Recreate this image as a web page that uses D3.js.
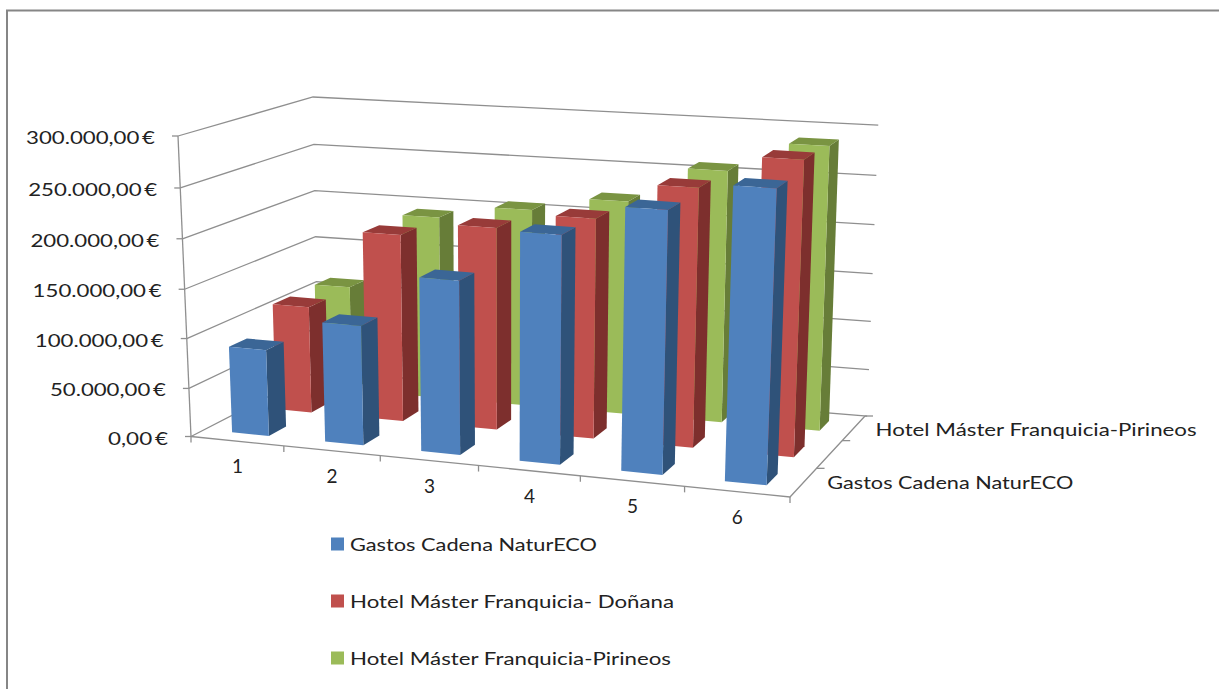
<!DOCTYPE html>
<html lang="es">
<head>
<meta charset="utf-8">
<title>Gastos por hotel</title>
<script src="https://cdn.jsdelivr.net/npm/d3@7"></script>
<style>
  html, body { margin: 0; padding: 0; background: #fff; }
  svg { display: block; }
  text { font-family: Lato, "Open Sans", sans-serif; fill: #222; }
</style>
</head>
<body>
<svg id="chart" width="1219" height="689"></svg>
<script>
// Chart data
const categories = ["1", "2", "3", "4", "5", "6"];
const seriesNames = ["Gastos Cadena NaturECO", "Hotel Máster Franquicia- Doñana", "Hotel Máster Franquicia-Pirineos"];
const gastos   = [88000, 121000, 174000, 226000, 257000, 284000];
const donana   = [111000, 193000, 207000, 223000, 260000, 293000];
const pirineos = [112000, 193000, 207000, 222000, 259000, 289000];
const valueTicks = [0, 50000, 100000, 150000, 200000, 250000, 300000];
const seriesValues = [gastos, donana, pirineos];

// Face colours per series: front, side, top
const faceColors = [
  { front: "#4f81bd", side: "#2f5279", top: "#3b6696" },
  { front: "#c0504d", side: "#7d2f2d", top: "#983b39" },
  { front: "#9bbb59", side: "#677d38", top: "#7a9442" }
];

// Box corners on screen: [x, y] for (left/right, front/back, floor/ceiling)
const box = {
  lf0: [191, 436.5], rf0: [790, 497], lb0: [318, 371], rb0: [865, 416],
  lf1: [178, 136],   rf1: [802, 179], lb1: [313, 97],  rb1: [876, 125]
};

// Normalised positions along each box edge; the steps widen toward the viewer
const xBoundary = d3.scaleLinear().domain(d3.range(7)).range([0, .155, .316, .48, .65, .824, 1]);
const zBoundary = d3.scaleLinear().domain([0, 1, 2, 3]).range([0, .354, .696, 1]);
const yScale = d3.scaleLinear().domain(valueTicks).range([0, .16, .326, .49, .658, .827, 1]);

// Trilinear placement inside the box
function project(u, v, w) {
  const mix = (a, b, t) => a + (b - a) * t;
  const at = k => {
    const f0 = mix(box.lf0[k], box.rf0[k], u), b0 = mix(box.lb0[k], box.rb0[k], u);
    const f1 = mix(box.lf1[k], box.rf1[k], u), b1 = mix(box.lb1[k], box.rb1[k], u);
    return mix(mix(f0, b0, w), mix(f1, b1, w), v);
  };
  return [at(0), at(1)];
}

const svg = d3.select("#chart");
const poly = pts => "M" + pts.map(p => p.join(",")).join("L") + "Z";
const gridColor = "#8f8f8f";

// Outer chart frame, open on the right and at the bottom
svg.append("path")
  .attr("d", "M7,689V10.5H1219")
  .attr("fill", "none").attr("stroke", "#868686").attr("stroke-width", 2);

// Walls: gridlines on the left and back planes, running just past the back corner
const walls = svg.append("g").attr("fill", "none").attr("stroke", gridColor).attr("stroke-width", 1.3);
valueTicks.forEach(val => {
  const v = yScale(val);
  walls.append("path").attr("d", d3.line()([project(0, v, 0), project(0, v, 1), project(1.004, v, 1)]));
  const p = project(0, v, 0);
  walls.append("path").attr("d", d3.line()([[p[0] - 6, p[1]], p]));
});

// Value axis, floor edges and tick marks
walls.append("path").attr("d", d3.line()([project(0, 0, 0), project(0, 1, 0)]));
walls.append("path").attr("d", d3.line()([project(0, 0, 0), project(1, 0, 0), project(1, 0, 1)]));
d3.range(7).forEach(i => {
  const p = project(xBoundary(i), 0, 0);
  walls.append("path").attr("d", d3.line()([p, [p[0], p[1] + 6]]));
});
d3.range(1, 4).forEach(j => {
  const p = project(1, 0, zBoundary(j));
  walls.append("path").attr("d", d3.line()([p, [p[0] + 8, p[1]]]));
});

// Bars, back row first so the nearer rows cover them
const barInset = 0.3;
const bars = [];
d3.range(2, -1, -1).forEach(j => {
  categories.forEach((c, i) => bars.push({ i, j, value: seriesValues[j][i] }));
});
const barGroups = svg.append("g").selectAll("g").data(bars).join("g");
barGroups.each(function (d) {
  const u0 = xBoundary(d.i + barInset), u1 = xBoundary(d.i + 1 - barInset);
  const z0 = zBoundary(d.j + barInset), z1 = zBoundary(d.j + 1 - barInset);
  const v = yScale(d.value);
  const colors = faceColors[d.j];
  const g = d3.select(this);
  g.append("path").attr("fill", colors.side)
    .attr("d", poly([project(u1, 0, z0), project(u1, 0, z1), project(u1, v, z1), project(u1, v, z0)]));
  g.append("path").attr("fill", colors.top)
    .attr("d", poly([project(u0, v, z0), project(u1, v, z0), project(u1, v, z1), project(u0, v, z1)]));
  g.append("path").attr("fill", colors.front)
    .attr("d", poly([project(u0, 0, z0), project(u1, 0, z0), project(u1, v, z0), project(u0, v, z0)]));
});

// Value labels, Spanish number format
const esLocale = d3.formatLocale({ decimal: ",", thousands: ".", grouping: [3], currency: ["", "\u2009€"] });
const euro = esLocale.format("$,.2f");
svg.append("g").selectAll("text").data(valueTicks).join("text")
  .attr("x", d => project(0, yScale(d), 0)[0] - 23)
  .attr("y", d => project(0, yScale(d), 0)[1] + 8)
  .attr("text-anchor", "end")
  .attr("font-size", 18)
  .attr("textLength", d => d === 0 ? 60 : d < 100000 ? 116 : 129)
  .attr("lengthAdjust", "spacingAndGlyphs")
  .text(d => euro(d));

// Category labels below the front edge
svg.append("g").selectAll("text").data(categories).join("text")
  .attr("x", (d, i) => project(xBoundary(i + 0.5), 0, 0)[0])
  .attr("y", (d, i) => project(xBoundary(i + 0.5), 0, 0)[1] + 32)
  .attr("text-anchor", "middle")
  .attr("font-size", 19)
  .text(d => d);

// Series labels beside the right floor edge; the middle one is skipped
const axisSeries = [
  { j: 0, width: 246, dx: 24, dy: 6 },
  { j: 2, width: 321, dx: 22, dy: 7.5 }
];
svg.append("g").selectAll("text").data(axisSeries).join("text")
  .attr("x", d => project(1, 0, zBoundary(d.j + 0.5))[0] + d.dx)
  .attr("y", d => project(1, 0, zBoundary(d.j + 0.5))[1] + d.dy)
  .attr("font-size", 18)
  .attr("textLength", d => d.width)
  .attr("lengthAdjust", "spacingAndGlyphs")
  .text(d => seriesNames[d.j]);

// Legend
const legendY = d3.scalePoint().domain(seriesNames).range([544, 658]);
const legendWidths = [247, 324, 321];
const legend = svg.append("g").selectAll("g").data(seriesNames).join("g")
  .attr("transform", d => `translate(331,${legendY(d)})`);
legend.append("rect")
  .attr("x", 0).attr("y", -6.5).attr("width", 13).attr("height", 13)
  .attr("fill", (d, j) => faceColors[j].front);
legend.append("text")
  .attr("x", 19).attr("y", 6.5)
  .attr("font-size", 18)
  .attr("textLength", (d, j) => legendWidths[j])
  .attr("lengthAdjust", "spacingAndGlyphs")
  .text(d => d);
</script>
</body>
</html>
